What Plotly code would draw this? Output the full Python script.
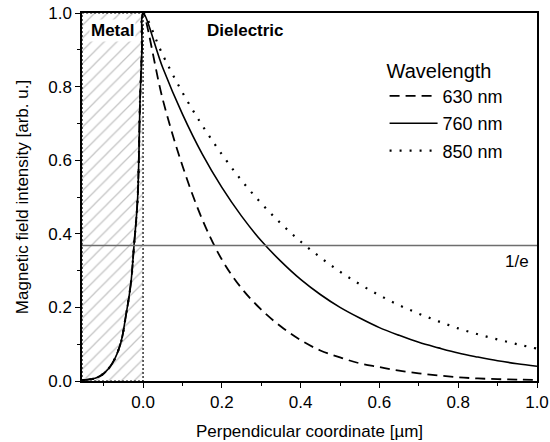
import plotly.graph_objects as go

# ---- data ----
metal_x = [-0.155, -0.14, -0.12, -0.099, -0.078, -0.057, -0.044, -0.031, -0.023, -0.014, -0.0076, -0.003, 0.0]
metal_y = [0.002, 0.004, 0.008, 0.021, 0.048, 0.102, 0.175, 0.265, 0.368, 0.492, 0.764, 0.90, 1.0]

diel_x = [0.0, 0.05, 0.1, 0.15, 0.2, 0.25, 0.3, 0.35, 0.4, 0.45, 0.5,
          0.55, 0.6, 0.65, 0.7, 0.75, 0.8, 0.85, 0.9, 0.95, 1.0]
h630 = [1.0, 0.765, 0.585, 0.44, 0.33, 0.252, 0.194, 0.148, 0.111, 0.083, 0.064,
        0.048, 0.038, 0.028, 0.021, 0.015, 0.010, 0.007, 0.005, 0.004, 0.003]
h760 = [1.0, 0.851, 0.725, 0.617, 0.526, 0.448, 0.381, 0.325, 0.276, 0.235, 0.200,
        0.171, 0.145, 0.124, 0.105, 0.090, 0.076, 0.065, 0.055, 0.047, 0.040]
h850 = [1.0, 0.886, 0.784, 0.695, 0.616, 0.545, 0.483, 0.428, 0.379, 0.336, 0.297,
        0.263, 0.233, 0.206, 0.183, 0.162, 0.143, 0.127, 0.113, 0.100, 0.088]

series_names = ["630 nm", "760 nm", "850 nm"]
inv_e = 0.368
x_min, x_max = -0.155, 1.0
metal_edge = 0.0

FONT = "Liberation Sans, Arial, sans-serif"

fig = go.Figure()

# hatched metal region
fig.add_trace(go.Scatter(
    x=[x_min, metal_edge, metal_edge, x_min, x_min],
    y=[0, 0, 1, 1, 0],
    mode="lines", fill="toself",
    fillcolor="rgba(0,0,0,0)",
    fillpattern=dict(shape="/", fgcolor="#8a8a8a", bgcolor="white", size=9, solidity=0.14),
    line=dict(color="black", width=1.2, dash="2px,2px"),
    showlegend=False, hoverinfo="skip"))

styles = [dict(dash="10px,6px", width=1.8),
          dict(dash="solid", width=1.6),
          dict(dash="2px,8px", width=2.2)]

for name, ys, st in zip(series_names, [h630, h760, h850], styles):
    fig.add_trace(go.Scatter(
        x=metal_x + diel_x[1:], y=metal_y + ys[1:],
        mode="lines", name=name, legendgroup=name, line_shape="spline",
        line=dict(color="black", width=st["width"], dash=st["dash"])))

# 1/e line
fig.add_shape(type="line", xref="x", yref="y", x0=x_min, x1=x_max, y0=inv_e, y1=inv_e,
              line=dict(color="#6e6e6e", width=1.5), layer="above")

fig.add_annotation(x=0.985, y=inv_e - 0.012, xref="x", yref="y", text="1/e",
                   showarrow=False, xanchor="right", yanchor="top",
                   font=dict(family=FONT, size=17, color="black"))
fig.add_annotation(x=-0.077, y=0.952, xref="x", yref="y", text="<b>Metal</b>",
                   showarrow=False, bgcolor="white",
                   font=dict(family=FONT, size=17, color="black"))
fig.add_annotation(x=0.26, y=0.952, xref="x", yref="y", text="<b>Dielectric</b>",
                   showarrow=False,
                   font=dict(family=FONT, size=17, color="black"))

axis_common = dict(showline=True, linecolor="black", linewidth=1.5, mirror=True,
                   ticks="outside", ticklen=5, tickwidth=1.2, tickcolor="black",
                   showgrid=False, zeroline=False, automargin=False,
                   tickfont=dict(family=FONT, size=17, color="black"))

fig.update_xaxes(range=[x_min, x_max], tickvals=[0.0, 0.2, 0.4, 0.6, 0.8, 1.0],
                 tickformat=".1f",
                 minor=dict(tickvals=[-0.1, 0.1, 0.3, 0.5, 0.7, 0.9], ticks="outside",
                            ticklen=3, tickwidth=1, tickcolor="black"),
                 title=dict(text="Perpendicular coordinate [µm]", standoff=14,
                            font=dict(family=FONT, size=17, color="black")),
                 **axis_common)
fig.update_yaxes(range=[0, 1.0], tickvals=[0.0, 0.2, 0.4, 0.6, 0.8, 1.0],
                 tickformat=".1f",
                 minor=dict(tickvals=[0.1, 0.3, 0.5, 0.7, 0.9], ticks="outside",
                            ticklen=3, tickwidth=1, tickcolor="black"),
                 title=dict(text="Magnetic field intensity [arb. u.]", standoff=15,
                            font=dict(family=FONT, size=17, color="black")),
                 **axis_common)

fig.update_layout(
    width=550, height=442,
    margin=dict(l=82, r=13, t=13, b=61),
    plot_bgcolor="white", paper_bgcolor="white",
    font=dict(family=FONT, color="black"),
    legend=dict(x=0.665, y=0.895, xanchor="left", yanchor="top",
                bgcolor="rgba(0,0,0,0)",
                title=dict(text="Wavelength", font=dict(family=FONT, size=20, color="black")),
                font=dict(family=FONT, size=18, color="black"),
                itemwidth=48, tracegroupgap=1),
)

fig.write_html("out.html")
